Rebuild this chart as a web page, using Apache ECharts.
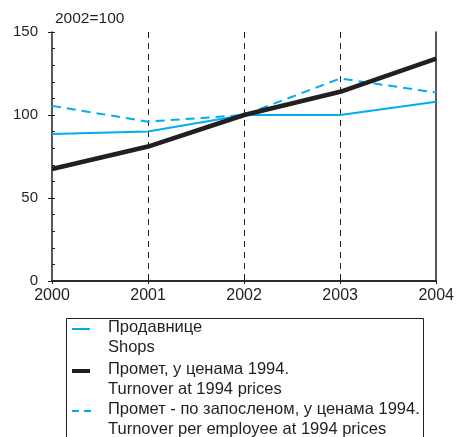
<!DOCTYPE html>
<html><head><meta charset="utf-8">
<script src="https://cdn.jsdelivr.net/npm/echarts@6/dist/echarts.min.js"></script>
<style>html,body{margin:0;padding:0;background:#fff}#c{width:457px;height:437px}</style>
</head><body><div id="c"></div>
<script>
var years = ['2000','2001','2002','2003','2004'];
var shops = [88.5, 90, 100, 100, 108];
var turnover = [67.5, 81, 100, 114, 134];
var perEmployee = [105.5, 96, 100, 122, 113.5];
var yTicks = [0, 50, 100, 150];
var unitLabel = '2002=100';
var legendLines = [
  ['Продавнице', 'Shops'],
  ['Промет, у ценама 1994.', 'Turnover at 1994 prices'],
  ['Промет - по запосленом, у ценама 1994.', 'Turnover per employee at 1994 prices']
];

var BLUE = '#00aeef', BLACK = '#231f20', FONT = 'Liberation Sans, Arial, sans-serif';
var chart = echarts.init(document.getElementById('c'));

var gl = [];
gl.push({type:'text', left:55, top:11, style:{text:unitLabel, font:'15.5px ' + FONT, fill:BLACK}});
gl.push({type:'rect', shape:{x:66.5, y:318.5, width:357, height:140}, style:{fill:'none', stroke:BLACK, lineWidth:1}});
var rowY = [329, 371, 411];
legendLines.forEach(function(l, i){
  gl.push({type:'text', left:108, top:rowY[i]-10, style:{text:l[0], font:'16.5px ' + FONT, fill:BLACK}});
  gl.push({type:'text', left:108, top:rowY[i]+10, style:{text:l[1], font:'16.5px ' + FONT, fill:BLACK}});
});
gl.push({type:'line', shape:{x1:72, y1:329, x2:90, y2:329}, style:{stroke:BLUE, lineWidth:2}});
gl.push({type:'line', shape:{x1:72, y1:371, x2:90, y2:371}, style:{stroke:BLACK, lineWidth:4}});
gl.push({type:'line', shape:{x1:72, y1:411, x2:92, y2:411}, style:{stroke:BLUE, lineWidth:2, lineDash:[7,5]}});

chart.setOption({
  animation:false,
  grid:{left:52, right:20, top:32, bottom:156, show:false},
  xAxis:[{
    type:'category', data:years, boundaryGap:false,
    axisLine:{lineStyle:{color:BLACK, width:1.5}},
    axisTick:{show:true, length:3, lineStyle:{color:BLACK}},
    axisLabel:{color:BLACK, fontSize:16, fontFamily:FONT, margin:7},
    splitLine:{show:true, interval:function(i){return i>0 && i<years.length-1;}, lineStyle:{color:BLACK, type:[6,5], width:1}}
  },{
    type:'category', data:years, boundaryGap:false, position:'top',
    axisLine:{lineStyle:{color:BLACK, width:1.5}}, axisTick:{show:false}, axisLabel:{show:false}
  }],
  yAxis:[{
    type:'value', min:0, max:150, interval:50,
    axisLine:{show:true, lineStyle:{color:BLACK, width:1.5}},
    axisTick:{show:true, length:4, lineStyle:{color:BLACK}},
    axisLabel:{color:BLACK, fontSize:15, fontFamily:FONT, margin:14},
    splitLine:{show:false}
  },{
    type:'value', min:0, max:150, interval:10, position:'left',
    axisLine:{show:false}, axisTick:{show:true, inside:true, length:3, lineStyle:{color:BLACK}},
    axisLabel:{show:false}, splitLine:{show:false}
  },{
    type:'value', min:0, max:150, interval:50, position:'right',
    axisLine:{show:true, lineStyle:{color:BLACK, width:1.5}}, axisTick:{show:false}, axisLabel:{show:false}, splitLine:{show:false}
  }],
  series:[
    {name:'shops', type:'line', data:shops, symbol:'none', lineStyle:{color:BLUE, width:2}, z:3},
    {name:'perEmployee', type:'line', data:perEmployee, symbol:'none', lineStyle:{color:BLUE, width:2, type:[9,6]}, z:3},
    {name:'turnover', type:'line', data:turnover, symbol:'none', lineStyle:{color:BLACK, width:4.5}, z:4}
  ],
  graphic:gl
});
</script></body></html>
